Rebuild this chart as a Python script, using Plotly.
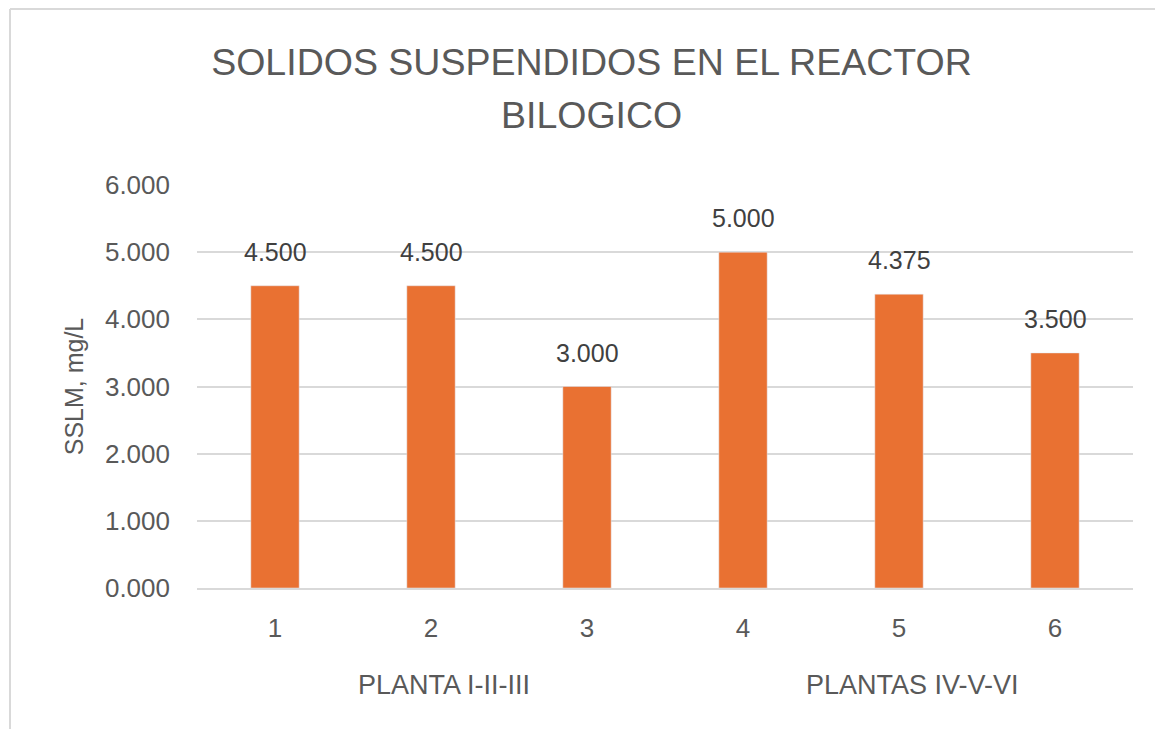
import plotly.graph_objects as go

# Datos del grafico
categorias = ['1', '2', '3', '4', '5', '6']
sslm = [4.5, 4.5, 3.0, 5.0, 4.375, 3.5]
grupos = ['PLANTA I-II-III', 'PLANTAS IV-V-VI']
grupo_pos = [1, 4]  # posicion central de cada grupo (indice de categoria)
y_ticks = [0, 1, 2, 3, 4, 5, 6]

FONT = 'Liberation Sans, Arial, sans-serif'
GRIS = '#595959'

fig = go.Figure()

fig.add_trace(go.Bar(
    x=categorias,
    y=sslm,
    marker_color='#E97132',
    width=0.31,
    hoverinfo='x+y',
))

# Etiquetas de datos sobre las barras (x como indice de categoria)
for i, val in enumerate(sslm):
    fig.add_annotation(
        x=i, y=val, xref='x', yref='y',
        text=f'{val:.3f}', showarrow=False,
        yanchor='middle', yshift=34,
        font=dict(size=25, color='#404040', family=FONT),
    )

# Etiquetas de grupo (categorias de segundo nivel)
for nombre, pos in zip(grupos, grupo_pos):
    fig.add_annotation(
        x=pos, y=-0.2407, xref='x', yref='paper',
        text=nombre, showarrow=False, yanchor='middle', xshift=13,
        font=dict(size=27, color=GRIS, family=FONT),
    )

# Segunda linea del titulo
fig.add_annotation(
    x=0.4215, y=1.174, xref='paper', yref='paper',
    text='BILOGICO', showarrow=False,
    xanchor='center', yanchor='middle',
    font=dict(size=37.5, color=GRIS, family=FONT),
)

# Borde del area del grafico
borde = dict(color='#d9d9d9', width=2)
fig.add_shape(type='line', xref='paper', yref='paper',
              x0=-0.1998, x1=1.04, y0=1.4367, y1=1.4367, line=borde)
fig.add_shape(type='line', xref='paper', yref='paper',
              x0=-0.1998, x1=-0.1998, y0=1.4367, y1=-0.4, line=borde)

fig.update_layout(
    width=1163,
    height=729,
    margin=dict(l=189, r=38, t=177, b=149),
    paper_bgcolor='white',
    plot_bgcolor='white',
    showlegend=False,
    font=dict(family=FONT, color=GRIS),
    title=dict(
        text='SOLIDOS SUSPENDIDOS EN EL REACTOR',
        x=0.5017, xanchor='center',
        y=0.9259, yanchor='middle',
        font=dict(size=37.5, color=GRIS, family=FONT),
    ),
    xaxis=dict(
        type='category',
        range=[-0.5, 5.5],
        showgrid=False,
        showline=True, linecolor='#d9d9d9', linewidth=2,
        ticks='',
        tickfont=dict(size=26, color=GRIS),
        ticklabelstandoff=16,
    ),
    yaxis=dict(
        range=[0, 6],
        tickvals=y_ticks,
        tickformat='.3f',
        showgrid=True, gridcolor='#d9d9d9', gridwidth=2,
        zeroline=False,
        showline=False,
        ticks='',
        tickfont=dict(size=26, color=GRIS),
        ticklabelstandoff=26,
        title=dict(text='SSLM, mg/L', font=dict(size=25, color=GRIS), standoff=14),
    ),
)

fig.write_html('out.html')
